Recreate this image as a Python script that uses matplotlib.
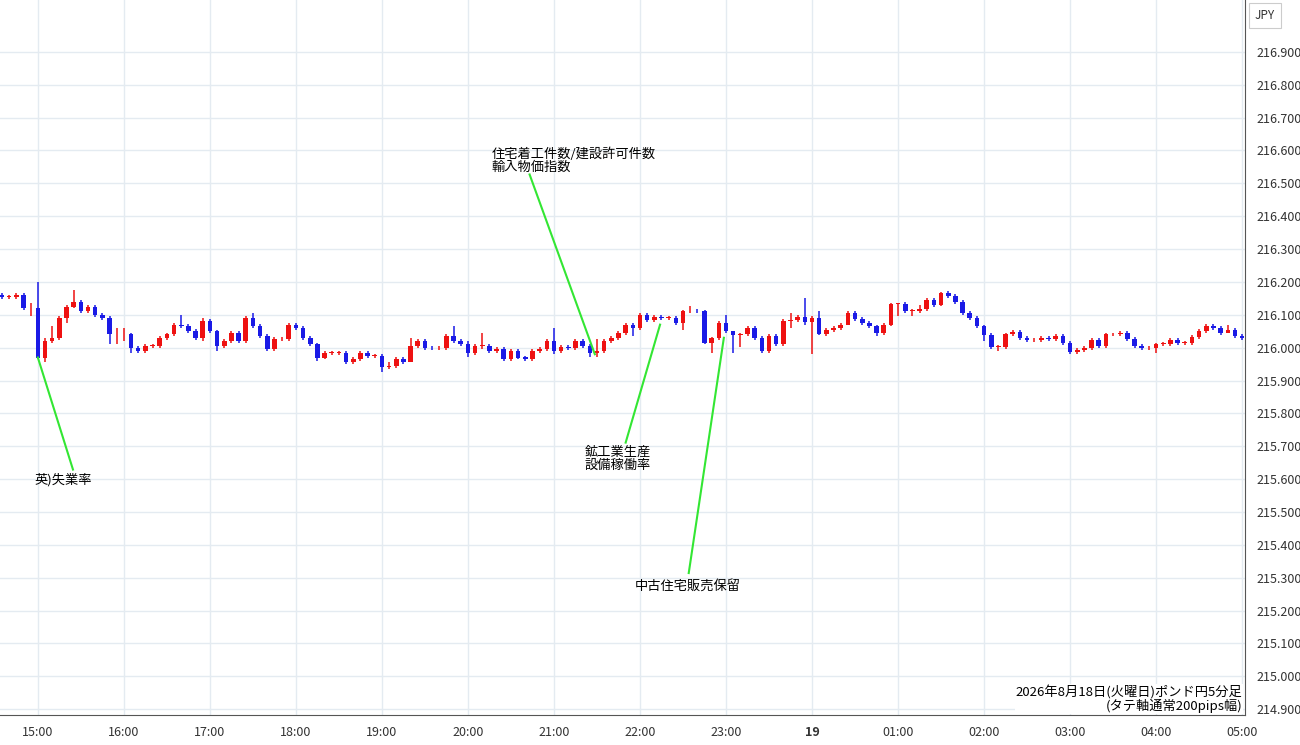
import numpy as np
import matplotlib
matplotlib.use("Agg")
import matplotlib.pyplot as plt

plt.rcParams['font.family'] = ['Noto Sans CJK JP', 'DejaVu Sans']

# 5分足の終値 (14:35 ～ 05:00)
closes = [
    216.155, 216.155, 216.160, 216.120, 216.120, 215.970, 216.020, 216.030, 216.090, 216.125,
    216.140, 216.110, 216.125, 216.100, 216.090, 216.040, 216.040, 216.040, 216.000, 215.990,
    216.005, 216.005, 216.030, 216.040, 216.070, 216.065, 216.050, 216.030, 216.080, 216.050,
    216.005, 216.020, 216.045, 216.020, 216.090, 216.065, 216.035, 215.995, 216.025, 216.025,
    216.070, 216.060, 216.030, 216.010, 215.970, 215.985, 215.985, 215.985, 215.955, 215.965,
    215.985, 215.975, 215.975, 215.940, 215.945, 215.965, 215.955, 216.005, 216.020, 216.000,
    215.998, 216.000, 216.035, 216.020, 216.010, 215.985, 216.005, 216.005, 215.990, 215.995,
    215.965, 215.990, 215.970, 215.965, 215.990, 215.995, 216.020, 215.990, 216.003, 216.000,
    216.020, 216.005, 215.983, 215.990, 216.020, 216.028, 216.045, 216.070, 216.060, 216.100,
    216.083, 216.092, 216.090, 216.090, 216.075, 216.110, 216.112, 216.110, 216.015, 216.028,
    216.076, 216.050, 216.037, 216.040, 216.060, 216.030, 215.990, 216.036, 216.012, 216.080,
    216.085, 216.092, 216.077, 216.090, 216.042, 216.055, 216.060, 216.070, 216.105, 216.088,
    216.075, 216.067, 216.044, 216.070, 216.133, 216.133, 216.112, 216.112, 216.118, 216.146,
    216.130, 216.166, 216.156, 216.139, 216.105, 216.090, 216.066, 216.039, 216.003, 216.003,
    216.040, 216.049, 216.029, 216.022, 216.022, 216.030, 216.025, 216.034, 216.013, 215.986,
    215.993, 216.000, 216.023, 216.004, 216.040, 216.040, 216.045, 216.025, 216.006, 215.998,
    215.998, 216.012, 216.012, 216.024, 216.014, 216.014, 216.031, 216.050, 216.066, 216.059,
    216.044, 216.054, 216.034, 216.028,
]
first_open = 216.160

# 目立つヒゲ (index: (高値, 安値))
wicks = {
    3: (216.165, 216.115), 4: (216.135, 216.095), 5: (216.200, 215.965), 6: (216.030, 215.955),
    7: (216.065, 216.015), 9: (216.130, 216.075), 10: (216.175, 216.120), 15: (216.095, 216.010),
    16: (216.060, 216.010), 17: (216.060, 216.020), 18: (216.045, 215.985), 25: (216.100, 216.060),
    28: (216.090, 216.020), 30: (216.055, 215.990), 35: (216.105, 216.060), 44: (216.015, 215.960),
    53: (215.980, 215.925), 54: (215.955, 215.935), 57: (216.030, 215.960), 63: (216.066, 216.015),
    65: (216.020, 215.972), 67: (216.046, 215.995), 77: (216.060, 215.980), 82: (216.010, 215.972),
    83: (216.025, 215.972), 88: (216.075, 216.034), 95: (216.115, 216.054), 96: (216.128, 216.105),
    98: (216.115, 216.011), 99: (216.032, 215.985), 101: (216.100, 216.045), 102: (216.050, 215.985),
    103: (216.045, 216.003), 110: (216.105, 216.060), 112: (216.150, 216.070), 113: (216.095, 215.980),
    114: (216.110, 216.038), 118: (216.110, 216.070), 122: (216.070, 216.035), 124: (216.135, 216.065),
    125: (216.135, 216.095), 127: (216.118, 216.095), 128: (216.130, 216.105), 131: (216.170, 216.128),
    132: (216.172, 216.150), 137: (216.070, 216.020), 139: (216.008, 215.990), 161: (216.015, 215.985),
    171: (216.070, 216.050),
}

hour_labels = ['15:00', '16:00', '17:00', '18:00', '19:00', '20:00', '21:00', '22:00',
               '23:00', '19', '01:00', '02:00', '03:00', '04:00', '05:00']
price_ticks = [round(214.9 + 0.1 * i, 1) for i in range(21)]

RED = '#ee1111'
BLUE = '#1a1ae6'
GRID = '#e4ebf1'

fig = plt.figure(figsize=(13, 7.45), dpi=100)
ax = fig.add_axes([0, 30 / 745, 1245 / 1300, 715 / 745])

n = len(closes)
opens = [first_open] + closes[:-1]
for i in range(n):
    o, c = opens[i], closes[i]
    col = RED if c >= o else BLUE
    hi, lo = wicks.get(i, (max(o, c) + 0.006, min(o, c) - 0.006))
    ax.vlines(i, lo, hi, color=col, linewidth=1.1, zorder=3)
    h = max(abs(c - o), 0.0018)
    ax.bar(i, h, bottom=min(o, c), width=0.64, color=col, linewidth=0, zorder=4)

ax.set_xlim(-0.28, 173.4)
ax.set_ylim(214.882, 217.058)

hour_pos = [5 + 12 * k for k in range(len(hour_labels))]
ax.set_xticks(hour_pos)
ax.set_xticklabels(hour_labels, fontsize=9, color='#333333')
for lbl in ax.get_xticklabels():
    if lbl.get_text() == '19':
        lbl.set_fontweight('bold')
ax.set_yticks(price_ticks)
ax.yaxis.tick_right()
ax.set_yticklabels([f'{p:.3f}' for p in price_ticks], fontsize=9, color='#333333')
ax.tick_params(axis='both', length=0, pad=8)
ax.grid(True, color=GRID, linewidth=1)
ax.set_axisbelow(True)
for s in ['top', 'left']:
    ax.spines[s].set_visible(False)
ax.spines['right'].set_color('#555555')
ax.spines['bottom'].set_color('#555555')

ax.text(1.008, 0.978, 'JPY', transform=ax.transAxes, fontsize=8.5, color='#333333',
        va='center', ha='left',
        bbox=dict(boxstyle='square,pad=0.5', fc='white', ec='#cccccc', lw=0.8))

# 指標の注記
GREEN = '#33e633'
ax.plot([5, 9.9], [215.97, 215.629], color=GREEN, lw=1.5, zorder=5)
ax.text(4.5, 215.598, '英)失業率', fontsize=9.5, va='center', ha='left')
ax.plot([82.7, 73.6], [215.98, 216.527], color=GREEN, lw=1.5, zorder=5)
ax.text(68.3, 216.609, '住宅着工件数/建設許可件数\n輸入物価指数', fontsize=9.5, va='top',
        ha='left', linespacing=0.95)
ax.plot([91.8, 87.0], [216.07, 215.711], color=GREEN, lw=1.5, zorder=5)
ax.text(81.3, 215.70, '鉱工業生産\n設備稼働率', fontsize=9.5, va='top', ha='left',
        linespacing=0.95)
ax.plot([100.7, 95.8], [216.03, 215.314], color=GREEN, lw=1.5, zorder=5)
ax.text(88.3, 215.273, '中古住宅販売保留', fontsize=9.5, va='center', ha='left')

ax.text(0.998, 0.003, '2026年8月18日(火曜日)ポンド円5分足\n(タテ軸通常200pips幅)',
        transform=ax.transAxes, fontsize=9.5, ha='right', va='bottom', linespacing=0.95,
        bbox=dict(fc='white', ec='none', pad=0.5))

fig.savefig('out.png', dpi=100, facecolor='white')
